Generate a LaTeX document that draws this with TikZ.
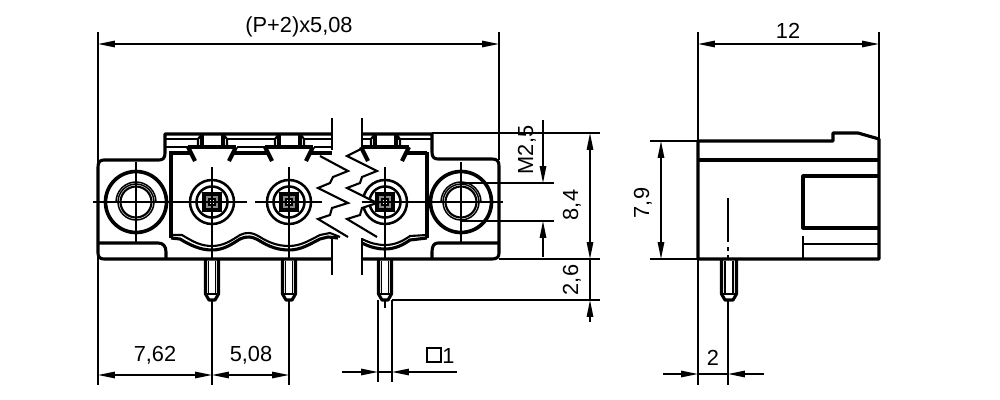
\documentclass[tikz,border=0pt]{standalone}
\usepackage{fontspec}
\setmainfont{Liberation Sans}
\usetikzlibrary{arrows.meta}

\begin{document}
\begin{tikzpicture}[x=0.25mm,y=-0.25mm,>={Triangle[length=4.2mm,width=1.6mm]},
                    thin line/.style={line width=1.05pt},
                    body line/.style={line width=2.2pt,line join=round},
                    mid line/.style={line width=1.5pt},
                    dim label/.style={font=\fontsize{15.5}{17}\selectfont,inner sep=0pt}]
  \useasboundingbox (0,0) rectangle (1000,400);

  % body outline, front view
  \draw[body line] (332,134) -- (165,134) -- (165,153) .. controls (165,158) and (163,160) .. (159,160)
        -- (104,160) .. controls (100,160) and (98,162) .. (98,167) -- (98,253)
        .. controls (98,257) and (100,259) .. (104,259) -- (332,259);
  \draw[body line] (361,134) -- (432,134) -- (432,152) .. controls (432,157) and (434,159) .. (438,159)
        -- (492,159) .. controls (497,159) and (499,161) .. (499,166) -- (499,253)
        .. controls (499,257) and (497,259) .. (492,259) -- (361,259);
  \draw[body line] (98,243) -- (158,243) .. controls (163,243) and (166,246) .. (166,252) -- (166,259);
  \draw[body line] (498,243) -- (438,243) .. controls (434,243) and (432,246) .. (432,252) -- (432,259);
  \draw[mid line] (165,139) -- (199,139) (226,139) -- (276,139) (303,139) -- (332,139)
                  (361,139) -- (372,139) (398,139) -- (432,139);
  \draw[mid line] (165,147) -- (188,147) (237,147) -- (265,147) (314,147) -- (332,147);

  % inner housing
  \draw[line width=3.4pt,line join=miter] (191,153) -- (171,153) -- (171,238);
  \draw[line width=3.4pt] (427,152) -- (427,238);
  \draw[body line] (406,153) -- (427,153);
  \draw[body line] (233,153) -- (268,153) (310,153) -- (332,153);

  % terminal heads
  \foreach \hx in {212,289,385} {
    \draw[line width=3pt] (\hx-24,147) -- (\hx-17,161) (\hx+24,147) -- (\hx+17,161);
    \draw[body line] (\hx-24,147) -- (\hx+24,147);
    \draw[line width=3pt] (\hx-10,134) -- (\hx-10,147) (\hx+11,134) -- (\hx+11,147);
    \draw[mid line] (\hx-14,147) -- (\hx-14,139) -- (\hx-10,134)
                    (\hx+15,147) -- (\hx+15,139) -- (\hx+11,134);
  }

  % mounting holes
  \foreach \fx in {136,461} {
    \draw[line width=2.6pt] (\fx,202) circle (30.5);
    \draw[mid line] (\fx,202) circle (15.5);
    \draw[thin line] (\fx,202) circle (18);
    \draw[thin line] (\fx-20,202) arc (180:360:20);
    \draw[thin line] (\fx,162) -- (\fx,243);
  }

  % screws
  \foreach \sx in {212,289,385} {
    \draw[line width=1.8pt] (\sx,202) circle (22);
    \draw[line width=1.8pt] (\sx,202) circle (15.5);
    \draw[line width=2.6pt,fill=black!45] (\sx-8,194) rectangle (\sx+8,210);
    \draw[thin line,fill=white] (\sx-3,199) rectangle (\sx+3,205);
  }

  % break
  \fill[white] (320,156) -- (348,171) -- (333,177) -- (330,183) -- (318,188) -- (348,203) -- (332,208)
        -- (330,215) -- (318,219) -- (348,237) -- (377,237) -- (347,219) -- (360,215) -- (362,208)
        -- (377,203) -- (347,188) -- (360,183) -- (362,177) -- (377,171) -- (347,156) -- cycle;
  \draw[mid line] (320,156) -- (348,171) -- (333,177) -- (330,183) -- (318,188) -- (348,203) -- (332,208)
        -- (330,215) -- (318,219) -- (348,237);
  \draw[mid line] (363,148) -- (347,156) -- (377,171) -- (362,177) -- (360,183) -- (347,188) -- (377,203)
        -- (362,208) -- (360,215) -- (347,219) -- (377,237);
  \draw[thin line] (332,118) -- (332,150) (332,238) -- (332,275);
  \draw[thin line] (362,118) -- (362,148) (362,238) -- (362,275);

  % lower wave
  \draw[mid line] (173,235) -- (182,235) .. controls (192,241) and (200,246) .. (212,246)
        .. controls (224,246) and (232,240) .. (240,235) .. controls (246,232) and (252,232) .. (260,237)
        .. controls (268,242) and (277,246) .. (289,246) .. controls (301,246) and (310,240) .. (320,235)
        -- (330,233) -- (340,237);
  \draw[body line] (171,238) -- (180,239) .. controls (190,245) and (200,250) .. (212,250)
        .. controls (224,250) and (232,244) .. (240,239) .. controls (246,236) and (252,236) .. (260,241)
        .. controls (268,246) and (277,250) .. (289,250) .. controls (301,250) and (310,244) .. (320,239)
        -- (328,237) -- (338,238);
  \draw[mid line] (362,239) .. controls (370,243) and (377,245) .. (385,245)
        .. controls (395,245) and (403,241) .. (410,236) -- (427,235);
  \draw[body line] (362,243) .. controls (370,247) and (377,249) .. (385,249)
        .. controls (395,249) and (403,245) .. (410,240) -- (427,238);

  % pins, front view
  \foreach \px in {212,289,385} {
    \draw[body line] (\px-6.5,259) -- (\px-6.5,294) -- (\px-3,300) -- (\px+3,300) -- (\px+6.5,294) -- (\px+6.5,259);
    \draw[thin line] (\px-3.5,261) -- (\px-3.5,295) (\px+3.5,261) -- (\px+3.5,295) (\px-7,294) -- (\px+7,294);
  }

  % centre lines
  \draw[thin line] (93,202) -- (247,202) (255,202) -- (322,202) (362,202) -- (503,202);
  \draw[thin line] (212,167) -- (212,259) (212,300) -- (212,385) (289,167) -- (289,259) (289,300) -- (289,385)
                   (385,167) -- (385,259) (385,300) -- (385,308);

  % side view
  \draw[body line] (698,141) -- (833,141) -- (833,133) -- (858,133) -- (879,139) -- (879,259) -- (698,259) -- cycle;
  \draw[body line] (698,160) -- (879,160);
  \draw[body line] (879,176) -- (803,176) -- (803,228) -- (879,228);
  \draw[mid line] (803,236) -- (803,259);
  \draw[mid line] (803,244) -- (879,244);
  \draw[body line] (721.5,259) -- (721.5,294) -- (725,300) -- (733,300) -- (736.5,294) -- (736.5,259);
  \draw[thin line] (725,261) -- (725,295) (733,261) -- (733,295) (721,294) -- (737,294);
  \draw[thin line] (728,198) -- (728,242) (728,247) -- (728,251) (728,255) -- (728,259) (728,300) -- (728,385);

  % extension lines
  \draw[thin line] (98,32) -- (98,385) (499,32) -- (499,160);
  \draw[thin line] (698,32) -- (698,385) (879,32) -- (879,139);
  \draw[thin line] (432,133) -- (600,133) (499,259) -- (600,259) (392,300) -- (600,300);
  \draw[thin line] (461,183) -- (554,183) (461,221) -- (554,221);
  \draw[thin line] (650,141) -- (698,141) (650,259) -- (698,259);
  \draw[thin line] (378,300) -- (378,382) (392,300) -- (392,382);

  % dimension ends
  \coordinate (topL)  at (98,44);   \coordinate (topR)  at (499,44);
  \coordinate (sideL) at (698,44);  \coordinate (sideR) at (879,44);
  \coordinate (b0)    at (98,375);  \coordinate (b1)    at (212,375); \coordinate (b2) at (289,375);
  \coordinate (mA)    at (543,120); \coordinate (mB)    at (543,183);
  \coordinate (mC)    at (543,221); \coordinate (mD)    at (543,257);
  \coordinate (hA)    at (590,133); \coordinate (hB)    at (590,259);
  \coordinate (hC)    at (590,300); \coordinate (hD)    at (590,322);
  \coordinate (vA)    at (661,141); \coordinate (vB)    at (661,259);
  \coordinate (pA)    at (342,372); \coordinate (pB)    at (378,372);
  \coordinate (pC)    at (392,372); \coordinate (pD)    at (457,372);
  \coordinate (qA)    at (663,374); \coordinate (qB)    at (698,374);
  \coordinate (qC)    at (728,374); \coordinate (qD)    at (764,374);

  \draw[thin line,<->] (topL) -- (topR);
  \draw[thin line,<->] (sideL) -- (sideR);
  \draw[thin line,<->] (b0) -- (b1);
  \draw[thin line,<->] (b1) -- (b2);
  \draw[thin line,->] (mA) -- (mB);
  \draw[thin line,->] (mD) -- (mC);
  \draw[thin line,<->] (hA) -- (hB);
  \draw[thin line] (hB) -- (hC);
  \draw[thin line,->] (hD) -- (hC);
  \draw[thin line,<->] (vA) -- (vB);
  \draw[thin line,->] (pA) -- (pB);
  \draw[thin line] (pB) -- (pC);
  \draw[thin line,->] (pD) -- (pC);
  \draw[thin line,->] (qA) -- (qB);
  \draw[thin line] (qB) -- (qC);
  \draw[thin line,->] (qD) -- (qC);

  % labels
  \node[dim label] (lenTop)  at (299,27)  {(P+2)x5,08};
  \node[dim label] (lenSide) at (788,31)  {12};
  \node[dim label] (lenA)    at (155,355) {7,62};
  \node[dim label] (lenB)    at (251,355) {5,08};
  \node[dim label] (lenPin)  at (713,358) {2};
  \node[dim label,rotate=90] (lenThread) at (527,150) {M2,5};
  \node[dim label,rotate=90] (lenHigh)   at (572,205) {8,4};
  \node[dim label,rotate=90] (lenDown)   at (572,280) {2,6};
  \node[dim label,rotate=90] (lenSideH)  at (643,203) {7,9};
  \node[draw,line width=1.3pt,minimum size=3.6mm,inner sep=0pt] (sqMark) at (434,355) {};
  \node[dim label,right=0pt] (lenSq) at (442,356) {1};
\end{tikzpicture}
\end{document}
